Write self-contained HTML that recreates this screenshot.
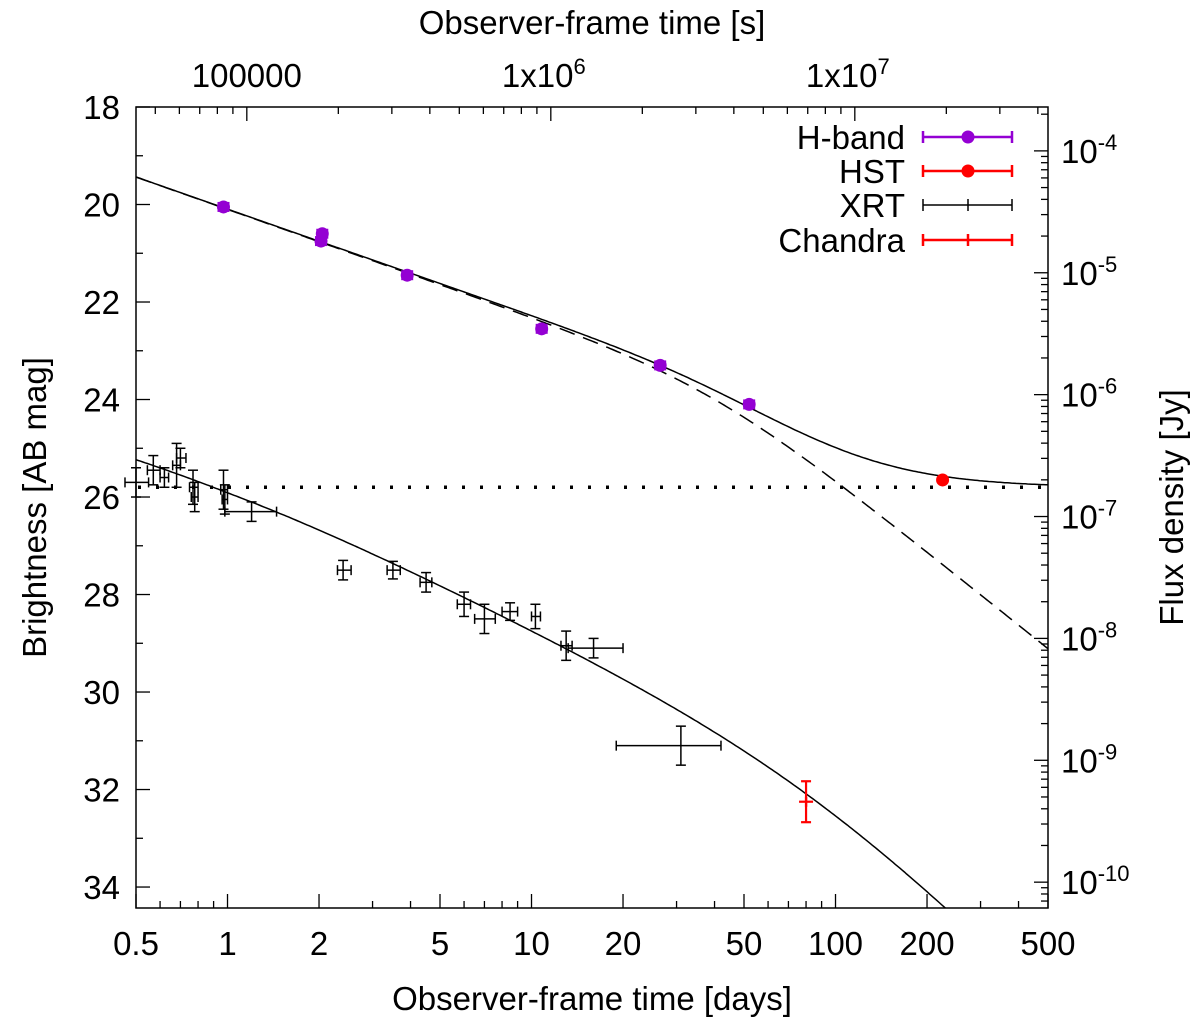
<!DOCTYPE html>
<html><head><meta charset="utf-8"><style>
html,body{margin:0;padding:0;background:#fff}
svg{display:block;font-family:"Liberation Sans",Arial,sans-serif}
</style></head><body>
<svg id="chart" width="1200" height="1019" xmlns="http://www.w3.org/2000/svg"></svg>
<script>
// ---- data ----
const hbandT = [0.97, 2.03, 2.05, 3.9, 10.8, 26.5, 52];
const hbandM = [20.05, 20.75, 20.6, 21.45, 22.55, 23.3, 24.1];
const hstT = [225];
const hstM = [25.65];
const xrtT = [0.5, 0.57, 0.62, 0.68, 0.70, 0.77, 0.78, 0.97, 0.98, 1.2, 2.4, 3.5, 4.5, 6.0, 7.0, 8.5, 10.3, 13, 16, 31];
const xrtM = [25.7, 25.45, 25.6, 25.35, 25.2, 25.8, 26.0, 25.85, 26.05, 26.3, 27.5, 27.5, 27.75, 28.2, 28.5, 28.35, 28.45, 29.05, 29.1, 31.1];
const xrtTlo = [0.46, 0.545, 0.6, 0.66, 0.68, 0.75, 0.76, 0.95, 0.96, 0.98, 2.3, 3.35, 4.3, 5.7, 6.5, 8.0, 10.0, 12.5, 13.2, 19];
const xrtThi = [0.55, 0.6, 0.64, 0.7, 0.73, 0.8, 0.8, 1.0, 1.0, 1.45, 2.55, 3.7, 4.7, 6.3, 7.6, 9.0, 10.7, 13.6, 20, 42];
const xrtMerr = [0.3, 0.3, 0.2, 0.45, 0.2, 0.35, 0.3, 0.4, 0.3, 0.2, 0.2, 0.18, 0.2, 0.25, 0.3, 0.18, 0.25, 0.3, 0.2, 0.4];
const chanT = [80];
const chanM = [32.25];
const chanMerr = [0.42];
const hostMag = 25.8;
const xTicks = [0.5, 1, 2, 5, 10, 20, 50, 100, 200, 500];
const xTickLabels = ["0.5", "1", "2", "5", "10", "20", "50", "100", "200", "500"];
const yTicks = [18, 20, 22, 24, 26, 28, 30, 32, 34];
const fluxExp = [-4, -5, -6, -7, -8, -9, -10];
const secTicks = [1e5, 1e6, 1e7];
const secLabels = ["100000", "1x10", "1x10"];
const secSup = ["", "6", "7"];

// ---- axes ----
const L = 136, R = 1048, T = 107, B = 908;
const xMin = 0.5, xMax = 500, yMin = 18, yMax = 34.43;
const FS = 33;
const X = t => L + (Math.log10(t) - Math.log10(xMin)) / (Math.log10(xMax) - Math.log10(xMin)) * (R - L);
const Y = m => T + (m - yMin) / (yMax - yMin) * (B - T);
const svg = document.getElementById('chart');
const NS = 'http://www.w3.org/2000/svg';
function mk(tag, attrs, parent) {
  const e = document.createElementNS(NS, tag);
  for (const k in attrs) e.setAttribute(k, attrs[k]);
  (parent || svg).appendChild(e);
  return e;
}
function txt(x, y, s, size, anchor, parent) {
  const e = mk('text', {x: x, y: y, 'font-size': size, 'text-anchor': anchor || 'middle', fill: '#000'}, parent);
  e.textContent = s;
  return e;
}
function sup(e, s) {
  const ts = document.createElementNS(NS, 'tspan');
  ts.setAttribute('dy', -13); ts.setAttribute('font-size', 22);
  ts.textContent = s;
  e.appendChild(ts);
}

const frame = mk('rect', {x: L, y: T, width: R - L, height: B - T, fill: 'none', stroke: '#000', 'stroke-width': 1.5});



const xAxis = mk('g', {});


for (let d = -1; d <= 2; d++) {
  for (let k = 1; k <= 9; k++) {
    const t = k * Math.pow(10, d);
    if (t < xMin * 0.999 || t > xMax * 1.001) continue;
    const x = X(t);
    const major = k === 1 || k === 2 || k === 5;
    const len = major ? 14 : 7;
    mk('line', {x1: x, y1: B, x2: x, y2: B - len, stroke: '#000', 'stroke-width': 1.3}, xAxis);
  }
}
xTicks.forEach((t, i) => txt(X(t), 955, xTickLabels[i], FS, 'middle', xAxis));
const xt = txt((L + R) / 2, 1010, 'Observer-frame time [days]', FS, 'middle');



const topAxis = mk('g', {});


for (let d = 4; d <= 7; d++) {
  for (let k = 1; k <= 9; k++) {
    const s = k * Math.pow(10, d);
    const t = s / 86400;
    if (t < xMin || t > xMax) continue;
    const x = X(t);
    const len = k === 1 ? 14 : 7;
    mk('line', {x1: x, y1: T, x2: x, y2: T + len, stroke: '#000', 'stroke-width': 1.3}, topAxis);
  }
}
secTicks.forEach((s, i) => {
  const e = txt(X(s / 86400) + (secSup[i] ? -7 : 0), 87, secLabels[i], FS, 'middle', topAxis);
  if (secSup[i]) sup(e, secSup[i]);
});
const tt = txt((L + R) / 2, 34, 'Observer-frame time [s]', FS, 'middle');



const yAxis = mk('g', {});


for (let m = 18; m <= 34; m += 1) {
  const y = Y(m);
  const len = m % 2 === 0 ? 14 : 7;
  mk('line', {x1: L, y1: y, x2: L + len, y2: y, stroke: '#000', 'stroke-width': 1.3}, yAxis);
}
yTicks.forEach(m => txt(120, Y(m) + 12, String(m), FS, 'end', yAxis));
const yt = txt(0, 0, 'Brightness [AB mag]', FS, 'middle');
yt.setAttribute('transform', 'translate(46,' + ((T + B) / 2) + ') rotate(-90)');



const magOfFlux = f => -2.5 * Math.log10(f / 3631);
const ry = mk('g', {});


for (let e = -11; e <= -3; e++) {
  for (let k = 1; k <= 9; k++) {
    const m = magOfFlux(k * Math.pow(10, e));
    if (m < yMin || m > yMax) continue;
    const len = k === 1 ? 14 : 7;
    mk('line', {x1: R, y1: Y(m), x2: R - len, y2: Y(m), stroke: '#000', 'stroke-width': 1.3}, ry);
  }
}
fluxExp.forEach(e => {
  const t = txt(1061, Y(magOfFlux(Math.pow(10, e))) + 12, '10', FS, 'start', ry);
  sup(t, String(e));
});
const yr = txt(0, 0, 'Flux density [Jy]', FS, 'middle');
yr.setAttribute('transform', 'translate(1183,' + ((T + B) / 2) + ') rotate(-90)');



// ---- model curves ----
const clip = mk('clipPath', {id: 'pc'});
mk('rect', {x: L, y: T, width: R - L, height: B - T}, clip);
function bpl(t, m0, tb, a1, a2, n) {
  const r = t / tb;
  const f = Math.pow(Math.pow(r, a1 * n) + Math.pow(r, a2 * n), -1 / n);
  return m0 - 2.5 * Math.log10(f);
}
const optMag = t => bpl(t, 20.1 + 2.2 * Math.log10(40), 40, 0.88, 2.0, 2);
const totMag = t => -2.5 * Math.log10(Math.pow(10, -0.4 * optMag(t)) + Math.pow(10, -0.4 * hostMag));
const xrMag = t => 25.66 + (2.5 / 3) * Math.log10(Math.pow(t, 2.1) + Math.pow(t, 3.75)) + 2.5 * Math.log10(1 + Math.pow(t / 90, 1.33)) - 0.1 * Math.log10(Math.max(t, 1) ) ;
function curvePath(fn) {
  let d = '';
  for (let i = 0; i <= 400; i++) {
    const t = Math.pow(10, Math.log10(xMin) + i / 400 * 3);
    d += (i ? 'L' : 'M') + X(t).toFixed(1) + ',' + Y(fn(t)).toFixed(1);
  }
  return d;
}
const c1 = mk('path', {d: curvePath(totMag), fill: 'none', stroke: '#000', 'stroke-width': 1.5, 'clip-path': 'url(#pc)'});


const c2 = mk('path', {d: curvePath(optMag), fill: 'none', stroke: '#000', 'stroke-width': 1.5, 'stroke-dasharray': '16,9', 'clip-path': 'url(#pc)'});


const c3 = mk('path', {d: curvePath(xrMag), fill: 'none', stroke: '#000', 'stroke-width': 1.5, 'clip-path': 'url(#pc)'});


const hl = mk('line', {x1: L + 2, y1: Y(hostMag), x2: R, y2: Y(hostMag), stroke: '#000', 'stroke-width': 3.5, 'stroke-dasharray': '3,15'});



// ---- data marks ----
function errbar(g, x1, x2, y1, y2, cx, cy, col, w) {
  const cap = 5;
  mk('line', {x1: x1, y1: cy, x2: x2, y2: cy, stroke: col, 'stroke-width': w}, g);
  mk('line', {x1: x1, y1: cy - cap, x2: x1, y2: cy + cap, stroke: col, 'stroke-width': w}, g);
  mk('line', {x1: x2, y1: cy - cap, x2: x2, y2: cy + cap, stroke: col, 'stroke-width': w}, g);
  mk('line', {x1: cx, y1: y1, x2: cx, y2: y2, stroke: col, 'stroke-width': w}, g);
  mk('line', {x1: cx - cap, y1: y1, x2: cx + cap, y2: y1, stroke: col, 'stroke-width': w}, g);
  mk('line', {x1: cx - cap, y1: y2, x2: cx + cap, y2: y2, stroke: col, 'stroke-width': w}, g);
}
const gx = mk('g', {});


xrtT.forEach((t, i) => {
  errbar(gx, X(xrtTlo[i]), X(xrtThi[i]), Y(xrtM[i] - xrtMerr[i]), Y(xrtM[i] + xrtMerr[i]), X(t), Y(xrtM[i]), '#000', 1.5);
});
const gc = mk('g', {});


chanT.forEach((t, i) => {
  const cx = X(t), cy = Y(chanM[i]);
  errbar(gc, cx, cx, Y(chanM[i] - chanMerr[i]), Y(chanM[i] + chanMerr[i]), cx, cy, '#f00', 2.2);
  mk('line', {x1: cx - 7, y1: cy, x2: cx + 7, y2: cy, stroke: '#f00', 'stroke-width': 2.2}, gc);
});
const gh = mk('g', {});


hbandT.forEach((t, i) => {
  const cx = X(t), cy = Y(hbandM[i]);
  mk('rect', {x: cx - 6, y: cy - 5, width: 12, height: 10, fill: '#9400d3'}, gh);
  mk('circle', {cx: cx, cy: cy, r: 6.5, fill: '#9400d3'}, gh);
});
const gs = mk('g', {});


hstT.forEach((t, i) => mk('circle', {cx: X(t), cy: Y(hstM[i]), r: 6.5, fill: '#f00'}, gs));

// ---- legend ----
const lg = mk('g', {});


const legItems = [['H-band', '#9400d3', 2.5, true], ['HST', '#f00', 2.5, true], ['XRT', '#000', 1.5, false], ['Chandra', '#f00', 2.5, false]];
const legY = [137, 171, 205, 240];
legItems.forEach((it, i) => {
  const y = legY[i];
  const e = mk('g', {}, lg);
  
  
  txt(905, y + 12, it[0], FS, 'end', e);
  mk('line', {x1: 923, y1: y, x2: 1012, y2: y, stroke: it[1], 'stroke-width': it[2]}, e);
  mk('line', {x1: 923, y1: y - 6, x2: 923, y2: y + 6, stroke: it[1], 'stroke-width': it[2]}, e);
  mk('line', {x1: 1012, y1: y - 6, x2: 1012, y2: y + 6, stroke: it[1], 'stroke-width': it[2]}, e);
  if (it[3]) mk('circle', {cx: 968, cy: y, r: 6.5, fill: it[1]}, e);
  else mk('line', {x1: 968, y1: y - 6, x2: 968, y2: y + 6, stroke: it[1], 'stroke-width': it[2]}, e);
});
</script>
</body></html>
